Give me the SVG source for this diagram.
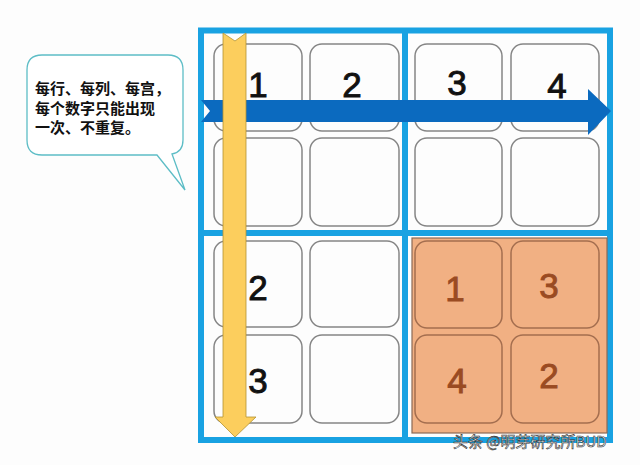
<svg xmlns="http://www.w3.org/2000/svg" width="640" height="465" viewBox="0 0 640 465">
<style>
.cell{fill:#fdfdfd;stroke:#858585;stroke-width:1.5}
.ocell{fill:#f1b083;stroke:#a46e4f;stroke-width:1.5}
.frame{fill:none;stroke:#19a2e2;stroke-width:6}
.num{font-family:"Liberation Sans",Arial,sans-serif;font-size:35px;fill:#111;stroke:#111;stroke-width:0.9;text-anchor:middle}
.onum{font-family:"Liberation Sans",Arial,sans-serif;font-size:35px;fill:#9a4b22;stroke:#9a4b22;stroke-width:0.9;text-anchor:middle}
.note{font-family:"Noto Sans CJK SC","Noto Sans",sans-serif;font-size:15px;fill:#111;font-weight:bold}
</style>
<rect width="640" height="465" fill="#fdfdfd"/>
<g id="grid">
<rect x="201" y="30.5" width="409" height="409.5" class="frame"/>
<line x1="405" y1="30" x2="405" y2="440" class="frame"/>
<line x1="201" y1="233" x2="610" y2="233" class="frame"/>
<rect x="412" y="238" width="195" height="195" fill="#f1b083" stroke="#8c6a55" stroke-width="1.2"/>
</g>
<g id="cell-r1c1"><rect x="214" y="44" width="88" height="87" rx="12" class="cell"/></g>
<g id="cell-r1c2"><rect x="310" y="44" width="89" height="87" rx="12" class="cell"/><text x="352" y="97" class="num">2</text></g>
<g id="cell-r1c3"><rect x="415" y="44" width="87" height="87" rx="12" class="cell"/><text x="457" y="95" class="num">3</text></g>
<g id="cell-r1c4"><rect x="511" y="44" width="88" height="87" rx="12" class="cell"/><text x="557" y="98" class="num">4</text></g>
<g id="cell-r2c1"><rect x="214" y="138" width="88" height="88" rx="12" class="cell"/></g>
<g id="cell-r2c2"><rect x="310" y="138" width="89" height="88" rx="12" class="cell"/></g>
<g id="cell-r2c3"><rect x="415" y="138" width="87" height="88" rx="12" class="cell"/></g>
<g id="cell-r2c4"><rect x="511" y="138" width="88" height="88" rx="12" class="cell"/></g>
<g id="cell-r3c1"><rect x="214" y="241" width="88" height="86" rx="12" class="cell"/></g>
<g id="cell-r3c2"><rect x="310" y="241" width="89" height="86" rx="12" class="cell"/></g>
<g id="cell-r4c1"><rect x="214" y="335" width="88" height="88" rx="12" class="cell"/></g>
<g id="cell-r4c2"><rect x="310" y="335" width="89" height="88" rx="12" class="cell"/></g>
<g id="cell-r3c3"><rect x="415" y="241" width="87" height="87" rx="12" class="ocell"/><text x="455" y="301" class="onum">1</text></g>
<g id="cell-r3c4"><rect x="511" y="241" width="88" height="87" rx="12" class="ocell"/><text x="549" y="298" class="onum">3</text></g>
<g id="cell-r4c3"><rect x="415" y="335" width="87" height="88" rx="12" class="ocell"/><text x="457" y="393" class="onum">4</text></g>
<g id="cell-r4c4"><rect x="511" y="335" width="88" height="88" rx="12" class="ocell"/><text x="549" y="388" class="onum">2</text></g>
<g id="connectors">
<path id="row-arrow" d="M201,100 L588,100 L588,89 L611,111 L588,135 L588,122 L201,122 L210,111 Z" fill="#0b6abf"/>
<path id="col-arrow" d="M223,33 L235,41 L246,33 L246,417 L256,417 L235,437 L215,417 L223,417 Z" fill="#fcce5d" stroke="#b39333" stroke-width="0.8"/>
</g>
<g id="digits-col">
<text x="258" y="97" class="num">1</text>
<text x="258" y="300" class="num">2</text>
<text x="258" y="393" class="num">3</text>
</g>
<g id="callout">
<path d="M42,55 L168,55 Q183,55 183,70 L183,140 Q183,152 172,154 L185,190 L157,155 L42,155 Q27,155 27,140 L27,70 Q27,55 42,55 Z" fill="#ffffff" stroke="#5dbdc6" stroke-width="1.3"/>
<text x="35" y="94" class="note">每行、每列、每宫，</text>
<text x="35" y="113.5" class="note">每个数字只能出现</text>
<text x="35" y="133" class="note">一次、不重复。</text>
</g>
<text x="453" y="447" font-family="Noto Sans CJK SC,sans-serif" font-size="15" fill="#ffffff" stroke="#333" stroke-width="0.6">头条 @明芽研究所BUD</text>
</svg>
